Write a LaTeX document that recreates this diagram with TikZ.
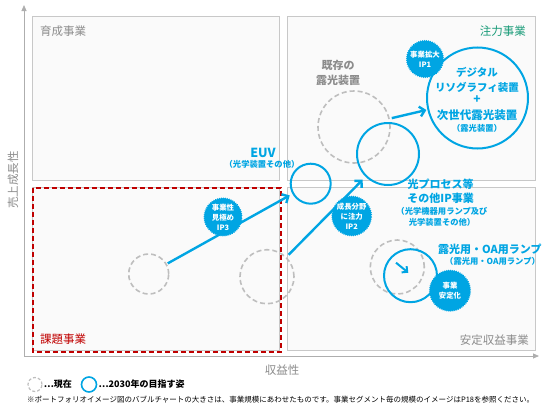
\documentclass[tikz,border=0pt]{standalone}
\usepackage{fontspec}
\setmainfont{Noto Sans CJK JP}
\usetikzlibrary{arrows.meta,decorations.pathmorphing,positioning}
\definecolor{pfblue}{RGB}{0,165,227}
\definecolor{pftext}{RGB}{140,140,140}
\definecolor{pfframe}{RGB}{200,200,200}
\definecolor{pfback}{RGB}{250,250,250}
\definecolor{pfnow}{RGB}{190,190,190}
\definecolor{pfteal}{RGB}{25,155,120}
\definecolor{pfred}{RGB}{192,0,0}
\newcommand{\fs}[1]{\fontsize{#1}{#1}\selectfont}

\begin{document}
\begin{tikzpicture}[x=1pt,y=-1pt,
  quad/.style={draw=pfframe, fill=pfback, line width=0.8pt},
  quadlabel/.style={font=\fs{11.5}, text=pftext, inner sep=0pt},
  nowc/.style={circle, draw=pfnow, dash pattern=on 5pt off 3pt, line width=1.6pt, inner sep=0pt},
  goalc/.style={circle, draw=pfblue, line width=2pt, inner sep=0pt},
  badge/.style={circle, fill=pfblue, inner sep=0pt, text=white, align=center,
    font=\bfseries\fontsize{7.4}{10}\selectfont,
    decorate, decoration={zigzag, segment length=2pt, amplitude=0.6pt}},
  move/.style={draw=pfblue, line width=2.4pt, -{Straight Barb[length=5pt,width=10pt]}},
  bluelabel/.style={text=pfblue, align=center, inner sep=0pt, font=\bfseries\fs{11}},
  bluesub/.style={text=pfblue, align=center, inner sep=0pt, font=\bfseries\fontsize{8.3}{10.5}\selectfont}]
  \clip (0,0) rectangle (542,407);

  \draw[quad] (32,16.5) rectangle (279.5,180.5);
  \draw[quad] (287.5,16.5) rectangle (535.5,180.5);
  \draw[quad] (32,187.5) rectangle (279.5,350);
  \draw[quad] (287.5,187.5) rectangle (535.5,350);
  \draw[pfred, line width=2pt, dash pattern=on 5pt off 3pt] (32.5,187.5) rectangle (280.5,351.5);

  \draw[pftext!70, line width=0.8pt, -{Triangle[length=6pt,width=5pt]}] (24,356) -- (24,5);
  \draw[pftext!70, line width=0.8pt, -{Triangle[length=6pt,width=5pt]}] (24,356) -- (539,356);

  \node[quadlabel, anchor=west] (grow) at (40,31) {育成事業};
  \node[quadlabel, anchor=east, text=pfteal] (focus) at (526,31) {注力事業};
  \node[quadlabel, anchor=west, text=pfred] (issue) at (40,339) {課題事業};
  \node[quadlabel, anchor=east] (stable) at (529,340) {安定収益事業};
  \node[quadlabel, rotate=90] (growth) at (13,180) {売上成長性};
  \node[quadlabel] (profit) at (282,370.5) {収益性};

  \node[nowc, minimum size=72pt] (nowlitho) at (354,127) {};
  \node[nowc, minimum size=40pt] (nowsmall) at (148.7,274) {};
  \node[nowc, minimum size=54pt] (nowproc) at (267,276.7) {};
  \node[nowc, minimum size=54pt] (nowlamp) at (397.3,267) {};

  \node[goalc, minimum size=101pt] (litho) at (477.5,98) {};
  \node[goalc, minimum size=62pt] (proc) at (388,154) {};
  \node[goalc, minimum size=40pt] (euv) at (310.7,183.7) {};
  \node[goalc, minimum size=53pt] (lamp) at (410.5,275.7) {};

  \draw[move, shorten <=2pt, shorten >=1pt] (nowlitho) -- (litho);
  \draw[move, shorten <=1pt, shorten >=3pt] (nowsmall) -- (euv);
  \draw[move, shorten <=3pt, shorten >=4pt] (nowproc) -- (proc);
  \coordinate (lampa) at (396,262.7);
  \coordinate (lampb) at (408.3,272.7);
  \draw[move, line width=2pt, -{Straight Barb[length=4pt,width=8pt]}] (lampa) -- (lampb);

  \node[badge, minimum size=37pt] (ip1) at (425,59) {事業拡大\\IP1};
  \node[badge, minimum size=38pt] (ip3) at (223,217) {事業性\\見極め\\IP3};
  \node[badge, minimum size=38pt] (ip2) at (351.7,216) {成長分野\\に注力\\IP2};
  \node[badge, minimum size=41pt] (fix) at (450,290.7) {事業\\安定化};

  \node[text=pftext, align=center, inner sep=0pt, font=\bfseries\fontsize{11}{15}\selectfont] (oldlitho) at (338,72.5) {既存の\\露光装置};

  \node[bluelabel, font=\bfseries\fontsize{10.5}{15}\selectfont] (digi) at (477,79.5) {デジタル\\リソグラフィ装置};
  \node[bluelabel, font=\bfseries\fs{12}] (plus) at (477,100) {+};
  \node[bluelabel, font=\bfseries\fs{11.5}] (next) at (477,115) {次世代露光装置};
  \node[bluesub] (nextsub) at (477,128) {（露光装置）};

  \node[bluelabel, font=\bfseries\fs{12.5}] (euvt) at (263,152.7) {EUV};
  \node[bluesub] (euvsub) at (262,164) {（光学装置その他）};

  \node[bluelabel, font=\bfseries\fontsize{11}{13.5}\selectfont] (proct) at (440.7,191.5) {光プロセス等\\その他IP事業};
  \node[bluesub] (procsub) at (442,217) {（光学機器用ランプ及び\\光学装置その他）};

  \node[bluelabel, anchor=west] (lampt) at (438,249) {露光用・OA用ランプ};
  \node[bluesub, anchor=west] (lampsub) at (445,261) {（露光用・OA用ランプ）};

  \node[nowc, line width=1.2pt, dash pattern=on 3pt off 2pt, minimum size=14pt] (legnow) at (35,384.5) {};
  \node[right=1pt of legnow, inner sep=0pt, font=\bfseries\fs{9}] (legnowt) {…現在};
  \node[goalc, line width=1.6pt, minimum size=15pt] (leggoal) at (89,384.5) {};
  \node[right=1pt of leggoal, inner sep=0pt, font=\bfseries\fs{9}] (leggoalt) {…2030年の目指す姿};

  \node[anchor=west, inner sep=0pt, font=\fs{7.5}] (note) at (27,400) {※ポートフォリオイメージ図のバブルチャートの大きさは、事業規模にあわせたものです。事業セグメント毎の規模のイメージはP18を参照ください。};
\end{tikzpicture}
\end{document}
